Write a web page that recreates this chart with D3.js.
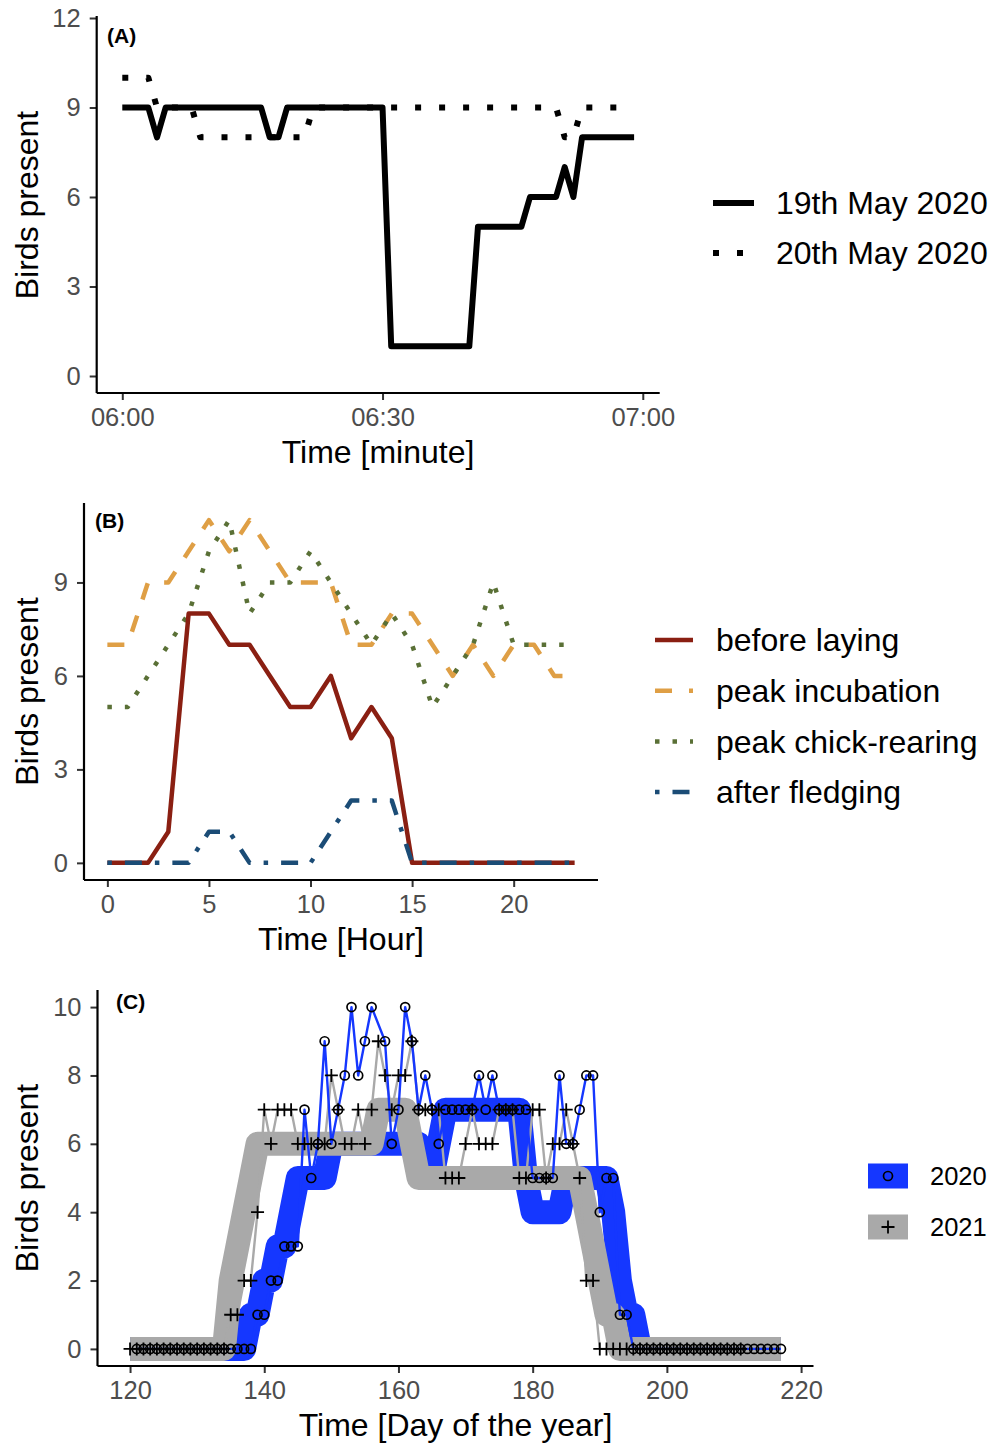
<!DOCTYPE html>
<html><head><meta charset="utf-8">
<script src="https://cdn.jsdelivr.net/npm/d3@7"></script>
<style>
body{margin:0;background:#fff}
text{font-family:"Liberation Sans",Arial,Helvetica,sans-serif}
</style>
</head><body>
<svg id="chart" width="991" height="1444"></svg>
<script>
// ---------------- Panel A data ----------------
const minutesA = [0,1,2,3,4,5,6,7,8,9,10,11,12,13,14,15,16,17,18,19,20,21,22,23,24,25,26,27,28,29,
                  30,31,32,33,34,35,36,37,38,39,40,41,42,43,44,45,46,47,48,49,50,51,52,53,54,55,56,57,58,59];
const may19 = [9,9,9,9,8,9,9,9,9,9,9,9,9,9,9,9,9,8,8,9,9,9,9,9,9,9,9,9,9,9,
               9,1,1,1,1,1,1,1,1,1,1,5,5,5,5,5,5,6,6,6,6,7,6,8,8,8,8,8,8,8];
const may20 = [10,10,10,10,9,9,9,9,9,8,8,8,8,8,8,8,8,8,8,8,8,8,9,9,9,9,9,9,9,9,
               9,9,9,9,9,9,9,9,9,9,9,9,9,9,9,9,9,9,9,9,9,8,8,9,9,9,9,9,9,9];
const seriesNamesA = ["19th May 2020","20th May 2020"];
const xTicksA = [0,30,60];
const xTickLabelsA = ["06:00","06:30","07:00"];
const yTicksA = [0,3,6,9,12];

// ---------------- Panel B data ----------------
const hoursB = [0,1,2,3,4,5,6,7,8,9,10,11,12,13,14,15,16,17,18,19,20,21,22,23];
const beforeLaying   = [0,0,0,1,8,8,7,7,6,5,5,6,4,5,4,0,0,0,0,0,0,0,0,0];
const peakIncubation = [7,7,9,9,10,11,10,11,10,9,9,9,7,7,8,8,7,6,7,6,7,7,6,6];
const peakChick      = [5,5,6,7,8,10,11,8,9,9,10,9,8,7,8,7,5,6,7,9,7,7,7,7];
const afterFledging  = [0,0,0,0,0,1,1,0,0,0,0,1,2,2,2,0,0,0,0,0,0,0,0,0];
const seriesNamesB = ["before laying","peak incubation","peak chick-rearing","after fledging"];
const xTicksB = [0,5,10,15,20];
const yTicksB = [0,3,6,9];

// ---------------- Panel C data ----------------
const firstDay2020 = 121;
const daily2020 = [0,0,0,0,0,0,0,0,0,0,0,0,0,0,0,0,0,0,      // 121-138
  1,1,2,2,3,3,3,                                               // 139-145
  7,5,6,9,6,7,8,10,8,9,10,null,9,6,7,10,9,7,8,7,6,              // 146-166
  7,7,7,7,7,8,7,8,7,7,7,7,7,                                   // 167-179
  5,5,5,5,8,6,6,7,8,8,4,5,5,1,1,                               // 180-194
  0,0,0,0,0,0,0,0,0,0,0,0,0,0,0,0,0,0,0,0,0,0,0];              // 195-217
const firstDay2021 = 120;
const daily2021 = [0,0,0,0,0,0,0,0,0,0,0,0,0,0,0,               // 120-134
  1,1,2,2,4,                                                   // 135-139
  7,6,7,7,7,6,6,6,6,                                           // 140-148
  6,8,7,6,6,7,6,7,9,8,7,8,8,9,7,7,7,7,                         // 149-166
  5,5,5,6,7,6,6,6,7,7,7,5,5,7,7,5,6,6,7,6,5,2,2,               // 167-189
  0,0,0,0,0,0,0,0,0,0,0,0,0,0,0,0,0,0,0,0,0,0];                // 190-211
const firstDayBand = 120;
const band2020 = [0,0,0,0,0,0,0,0,0,0,0,0,0,0,0,0,0,0,          // 120-137
  1,1,2,2,3,3,4,                                               // 138-144
  5,5,5,5,5,                                                   // 145-149
  6,6,6,6,6,6,6,6,6,6,6,6,6,6,                                 // 150-163
  5,5,6,                                                       // 164-166
  7,7,7,7,7,7,7,7,7,7,7,7,                                     // 167-178
  5,4,4,4,4,4,                                                 // 179-184
  5,5,5,5,5,5,5,                                               // 185-191
  4,2,1,1,                                                     // 192-195
  0,0,0,0,0,0,0,0,0,0,0,0,0,0,0,0,0,0,0,0,0,0];                // 196-217
const band2021 = [0,0,0,0,0,0,0,0,0,0,0,0,0,0,0,                // 120-134
  2,3,4,5,                                                     // 135-138
  6,6,6,6,6,6,6,6,6,6,6,6,6,6,6,6,6,6,                         // 139-156
  7,7,7,7,7,6,                                                 // 157-162
  5,5,5,5,5,5,5,5,5,5,5,5,5,5,5,5,5,5,5,5,5,5,5,5,5,           // 163-187
  4,3,2,1,1,                                                   // 188-192
  0,0,0,0,0,0,0,0,0,0,0,0,0,0,0,0,0,0,0,0,0,0,0,0,0];          // 193-217
const yearsC = ["2020","2021"];
const xTicksC = [120,140,160,180,200,220];
const yTicksC = [0,2,4,6,8,10];

// ---------------- styles ----------------
const TICK_COL = "#4d4d4d";
const AX_COL = "#000";
const BLUE = "#1537ff";
const GREY = "#a9a9a9";
const colsB = ["#8a1f12","#df9f45","#5a7036","#1b4c76"];
const TITLE_SIZE = "32px";
const TICK_SIZE = "25.5px";

const svg = d3.select("#chart");
svg.append("rect").attr("width",991).attr("height",1444).attr("fill","#fff");

function axes(g, x, y, xt, xfmt, yt, xLine, yLine) {
  const gx = g.append("g").attr("transform",`translate(0,${xLine.y})`)
    .call(d3.axisBottom(x).tickValues(xt).tickFormat(xfmt).tickSize(7).tickSizeOuter(0).tickPadding(8));
  gx.select(".domain").remove();
  gx.selectAll(".tick line").attr("stroke","#333").attr("stroke-width",2);
  gx.selectAll(".tick text").attr("fill",TICK_COL).style("font-size",TICK_SIZE);
  const gy = g.append("g").attr("transform",`translate(${yLine.x},0)`)
    .call(d3.axisLeft(y).tickValues(yt).tickSize(7).tickSizeOuter(0).tickPadding(9));
  gy.select(".domain").remove();
  gy.selectAll(".tick line").attr("stroke","#333").attr("stroke-width",2);
  gy.selectAll(".tick text").attr("fill",TICK_COL).style("font-size",TICK_SIZE);
  g.append("line").attr("x1",xLine.x0).attr("x2",xLine.x1).attr("y1",xLine.y).attr("y2",xLine.y)
    .attr("stroke",AX_COL).attr("stroke-width",2.2);
  g.append("line").attr("x1",yLine.x).attr("x2",yLine.x).attr("y1",yLine.y0).attr("y2",yLine.y1)
    .attr("stroke",AX_COL).attr("stroke-width",2.2);
}
function titles(xt, xcx, xby, ycy, label, lx, ly) {
  svg.append("text").attr("x",xcx).attr("y",xby).attr("text-anchor","middle")
    .style("font-size",TITLE_SIZE).attr("fill","#000").text(xt);
  svg.append("text").attr("transform",`translate(38,${ycy}) rotate(-90)`).attr("text-anchor","middle")
    .style("font-size",TITLE_SIZE).attr("fill","#000").text("Birds present");
  svg.append("text").attr("x",lx).attr("y",ly).style("font-size","21px").style("font-weight","bold")
    .attr("fill","#000").text(label);
}

// ================= Panel A =================
{
  const x = d3.scaleLinear().domain([-2.95, 61.95]).range([96.7, 659.7]);
  const y = d3.scaleLinear().domain([-0.57, 12]).range([393, 18]);
  const g = svg.append("g");
  axes(g, x, y, xTicksA, (d,i)=>xTickLabelsA[i], yTicksA,
       {y:393, x0:96.7, x1:659.7}, {x:96.7, y0:393, y1:16});
  const line = d3.line().x((d,i)=>x(minutesA[i])).y(d=>y(d));
  g.append("path").datum(may20).attr("d",line).attr("fill","none").attr("stroke","#000")
    .attr("stroke-width",6).attr("stroke-dasharray","6,18").attr("stroke-linejoin","round");
  g.append("path").datum(may19).attr("d",line).attr("fill","none").attr("stroke","#000")
    .attr("stroke-width",6).attr("stroke-linejoin","round");
  titles("Time [minute]", 378, 463, 205, "(A)", 107, 43);
  const dash = [null,"6,18"];
  seriesNamesA.forEach((n,i)=>{
    const ly = 203 + i*50;
    svg.append("line").attr("x1",713).attr("x2",754).attr("y1",ly).attr("y2",ly)
      .attr("stroke","#000").attr("stroke-width",6).attr("stroke-dasharray",dash[i]);
    svg.append("text").attr("x",776).attr("y",ly).attr("dy","0.35em").style("font-size",TITLE_SIZE).text(n);
  });
}

// ================= Panel B =================
{
  const x = d3.scaleLinear().domain([-1.15, 24.15]).range([84, 598]);
  const y = d3.scaleLinear().domain([-0.55, 11.55]).range([880, 503]);
  const g = svg.append("g");
  axes(g, x, y, xTicksB, d=>d, yTicksB, {y:880, x0:84, x1:598}, {x:84, y0:880, y1:503});
  const series = [beforeLaying, peakIncubation, peakChick, afterFledging];
  const dashes = [null, "17,17", "4.5,13", "4.5,13,17,13"];
  const line = d3.line().x((d,i)=>x(hoursB[i])).y(d=>y(d));
  [1,2,0,3].forEach(k=>{
    g.append("path").datum(series[k]).attr("d",line).attr("fill","none").attr("stroke",colsB[k])
      .attr("stroke-width",4.5).attr("stroke-dasharray",dashes[k]).attr("stroke-linejoin","round");
  });
  titles("Time [Hour]", 341, 950, 691.5, "(B)", 95, 528);
  seriesNamesB.forEach((n,i)=>{
    const ly = 640 + i*50.7;
    svg.append("line").attr("x1",655).attr("x2",693).attr("y1",ly).attr("y2",ly)
      .attr("stroke",colsB[i]).attr("stroke-width",4.5).attr("stroke-dasharray",dashes[i]);
    svg.append("text").attr("x",716).attr("y",ly).attr("dy","0.35em").style("font-size",TITLE_SIZE).text(n);
  });
}

// ================= Panel C =================
{
  const x = d3.scaleLinear().domain([115.15, 221.85]).range([97.5, 813.5]);
  const y = d3.scaleLinear().domain([-0.5, 10.5]).range([1366, 990]);
  const g = svg.append("g");
  const d20 = daily2020.map((v,i)=>({day:firstDay2020+i, v})).filter(d=>d.v!==null);
  const d21 = daily2021.map((v,i)=>({day:firstDay2021+i, v}));
  const b20 = band2020.map((v,i)=>({day:firstDayBand+i, v}));
  const b21 = band2021.map((v,i)=>({day:firstDayBand+i, v}));
  const line = d3.line().x(d=>x(d.day)).y(d=>y(d.v));
  g.append("path").datum(b20).attr("d",line).attr("fill","none").attr("stroke",BLUE)
    .attr("stroke-width",24).attr("stroke-linejoin","round").attr("stroke-linecap","butt");
  g.append("path").datum(b21).attr("d",line).attr("fill","none").attr("stroke",GREY)
    .attr("stroke-width",24).attr("stroke-linejoin","round").attr("stroke-linecap","butt");
  g.append("path").datum(d21).attr("d",line).attr("fill","none").attr("stroke",GREY)
    .attr("stroke-width",2.4).attr("stroke-linejoin","round");
  g.append("path").datum(d20).attr("d",line).attr("fill","none").attr("stroke",BLUE)
    .attr("stroke-width",2.4).attr("stroke-linejoin","round");
  g.selectAll("circle.p20").data(d20).join("circle").attr("class","p20")
    .attr("cx",d=>x(d.day)).attr("cy",d=>y(d.v)).attr("r",4.5)
    .attr("fill","none").attr("stroke","#000").attr("stroke-width",1.7);
  g.selectAll("path.p21").data(d21).join("path").attr("class","p21")
    .attr("transform",d=>`translate(${x(d.day)},${y(d.v)})`)
    .attr("d","M-6.5,0H6.5M0,-6.5V6.5").attr("stroke","#000").attr("stroke-width",1.8).attr("fill","none");
  axes(g, x, y, xTicksC, d=>d, yTicksC, {y:1366, x0:97.5, x1:813.5}, {x:97.5, y0:1366, y1:990});
  titles("Time [Day of the year]", 455.5, 1436, 1178, "(C)", 116, 1009);
  const cols = [BLUE, GREY];
  yearsC.forEach((n,i)=>{
    const cy = 1176 + i*51;
    svg.append("rect").attr("x",868).attr("y",cy-12.5).attr("width",40).attr("height",25).attr("fill",cols[i]);
    if (i===0) svg.append("circle").attr("cx",888).attr("cy",cy).attr("r",4.5)
      .attr("fill","none").attr("stroke","#000").attr("stroke-width",1.7);
    else svg.append("path").attr("transform",`translate(888,${cy})`).attr("d","M-6.5,0H6.5M0,-6.5V6.5")
      .attr("stroke","#000").attr("stroke-width",1.8);
    svg.append("text").attr("x",930).attr("y",cy).attr("dy","0.35em").style("font-size","25.5px").text(n);
  });
}
</script>
</body></html>
